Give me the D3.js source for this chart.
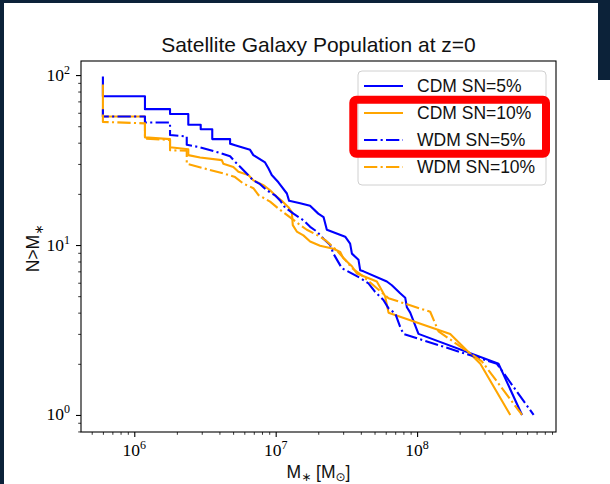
<!DOCTYPE html>
<html><head><meta charset="utf-8">
<script src="https://cdn.jsdelivr.net/npm/d3@7"></script>
<style>body{margin:0;background:#fff;} svg{display:block;}</style>
</head><body><svg id="c" width="610" height="484"></svg>
<script>
// ---- data (stellar mass in Msun, cumulative count N>M*) ----
const massCDM5 = [6.0e5, 6.0e5, 1.19e6, 1.19e6, 1.79e6, 1.79e6, 2.41e6, 2.41e6, 2.95e6, 2.95e6, 3.56e6, 3.56e6, 4.76e6, 4.76e6, 5.16e6, 6.59e6, 6.95e6, 8.41e6, 8.88e6, 9.38e6, 1.045e7, 1.20e7, 1.244e7, 1.49e7, 1.75e7, 2.0e7, 2.18e7, 2.30e7, 3.10e7, 3.36e7, 3.46e7, 3.85e7, 3.96e7, 4.18e7, 6.11e7, 6.63e7, 7.59e7, 8.24e7, 8.47e7, 8.94e7, 1.023e8, 3.77e8, 5.52e8];
const countCDM5 = [98, 75, 75, 63, 63, 59, 59, 51, 51, 48, 48, 42, 42, 39.5, 38.7, 36.3, 33.8, 30.6, 28.3, 25.8, 23.4, 20.1, 18.2, 17.6, 17, 15.3, 14.6, 12.3, 11.2, 10.2, 8.9, 8.2, 7.1, 7, 6.1, 5.8, 5.2, 4.9, 4.3, 4, 3, 2, 1];

const massCDM10 = [6.0e5, 6.0e5, 1.19e6, 1.19e6, 1.79e6, 1.79e6, 2.41e6, 2.41e6, 2.92e6, 4.16e6, 4.26e6, 5.02e6, 5.45e6, 6.41e6, 6.95e6, 8.18e6, 9.13e6, 9.90e6, 1.105e7, 1.23e7, 1.30e7, 1.321e7, 1.41e7, 1.57e7, 1.752e7, 2.06e7, 2.56e7, 2.86e7, 3.0e7, 3.46e7, 3.75e7, 5.19e7, 5.94e7, 6.28e7, 1.715e8, 2.80e8, 4.56e8];
const countCDM10 = [88, 57, 57, 43, 42, 37.6, 36.6, 33.8, 32.7, 31.6, 30.1, 28.8, 27, 25.8, 24, 22.5, 21, 19.6, 18.2, 16.7, 15.6, 13.1, 12, 11.4, 10.5, 9.9, 9.5, 9.1, 8.4, 7.5, 6.8, 6.1, 5, 4, 3, 2, 1];

const massWDM5 = [6.0e5, 6.0e5, 1.19e6, 1.19e6, 1.79e6, 1.79e6, 2.35e6, 2.35e6, 2.92e6, 4.04e6, 4.76e6, 5.16e6, 5.6e6, 6.95e6, 7.76e6, 8.65e6, 9.9e6, 1.074e7, 1.166e7, 1.335e7, 1.57e7, 1.752e7, 1.954e7, 2.176e7, 2.43e7, 2.56e7, 2.94e7, 3.96e7, 4.53e7, 5.05e7, 5.78e7, 6.28e7, 7.0e7, 7.59e7, 8.01e7, 3.67e8, 6.67e8];
const countWDM5 = [63, 57, 57, 52.6, 52.6, 44.4, 43.5, 38.9, 37.6, 34.8, 33.3, 30.9, 28.9, 24, 22.8, 21, 19.6, 18.3, 16.6, 15.3, 14, 12.8, 12, 10.9, 10, 8.9, 7.3, 6.4, 5.95, 5.3, 4.75, 4.24, 3.96, 3.3, 3, 2, 1];

const massWDM10 = [6.0e5, 6.0e5, 1.19e6, 1.19e6, 1.79e6, 1.79e6, 2.35e6, 2.35e6, 3.08e6, 4.26e6, 5.16e6, 5.91e6, 6.95e6, 7.54e6, 9.13e6, 1.074e7, 1.166e7, 1.30e7, 1.488e7, 1.66e7, 2.06e7, 2.24e7, 2.63e7, 3.10e7, 3.47e7, 4.09e7, 4.91e7, 6.28e7, 1.238e8, 1.417e8, 2.87e8, 5.52e8];
const countWDM10 = [58.7, 53, 52, 42.3, 41.5, 36.1, 35.9, 30.1, 28.3, 26.4, 25.1, 23, 21.6, 19.7, 18, 16.1, 15.3, 14.3, 13.1, 12.3, 11.2, 10.7, 9.5, 8.2, 7.3, 6.6, 5.8, 4.86, 4.05, 3.1, 2.07, 1];

const seriesNames = ["CDM SN=5%", "CDM SN=10%", "WDM SN=5%", "WDM SN=10%"];
const xTickExponents = [6, 7, 8];
const yTickExponents = [0, 1, 2];
const titleText = "Satellite Galaxy Population at z=0";

// ---- styles ----
const seriesData = [[massCDM5, countCDM5], [massCDM10, countCDM10], [massWDM5, countWDM5], [massWDM10, countWDM10]];
const seriesStyle = [
  {color: "#0000ff", dash: null},
  {color: "#ffa500", dash: null},
  {color: "#0000ff", dash: "13.3,3.3,2.1,3.3"},
  {color: "#ffa500", dash: "13.3,3.3,2.1,3.3"}
];

const svg = d3.select("#c");
svg.append("rect").attr("x",0).attr("y",0).attr("width",610).attr("height",484).attr("fill","#fff");
// dark frame
const frame = "#0c2239";
svg.append("rect").attr("x",0).attr("y",0).attr("width",610).attr("height",3).attr("fill",frame);
svg.append("rect").attr("x",0).attr("y",0).attr("width",4).attr("height",484).attr("fill",frame);
svg.append("rect").attr("x",598).attr("y",0).attr("width",12).attr("height",80).attr("fill",frame);

const L = 81, R = 556, T = 61, B = 432;
const x = d3.scaleLog().domain([4.2e5, 9.6e8]).range([L, R]);
const y = d3.scaleLog().domain([0.794, 121]).range([B, T]);

// clip
svg.append("clipPath").attr("id","clip").append("rect").attr("x",L).attr("y",T).attr("width",R-L).attr("height",B-T);

const line = d3.line().x(d => x(d[0])).y(d => y(d[1]));
const g = svg.append("g").attr("clip-path","url(#clip)");
seriesData.forEach((s, i) => {
  const pts = s[0].map((m, j) => [m, s[1][j]]);
  g.append("path").datum(pts).attr("d", line)
    .attr("fill","none").attr("stroke", seriesStyle[i].color)
    .attr("stroke-width", 2.1).attr("stroke-linejoin","round")
    .attr("stroke-dasharray", seriesStyle[i].dash);
});

// ---- axes ----
function minorTicks(lo, hi) {
  const out = [];
  for (let e = Math.floor(Math.log10(lo)); e <= Math.ceil(Math.log10(hi)); e++)
    for (let k = 2; k <= 9; k++) { const v = k * Math.pow(10, e); if (v >= lo && v <= hi) out.push(v); }
  return out;
}
const xMajor = xTickExponents.map(e => Math.pow(10, e));
const yMajor = yTickExponents.map(e => Math.pow(10, e));

const axStyle = sel => { sel.select(".domain").remove(); sel.selectAll("line").attr("stroke","#000"); };
svg.append("g").attr("transform",`translate(0,${B})`)
  .call(d3.axisBottom(x).tickValues(xMajor).tickSize(5).tickFormat(""))
  .call(axStyle).selectAll("line").attr("stroke-width",1.1);
svg.append("g").attr("transform",`translate(0,${B})`)
  .call(d3.axisBottom(x).tickValues(minorTicks(4.2e5, 9.6e8)).tickSize(2.8).tickFormat(""))
  .call(axStyle).selectAll("line").attr("stroke-width",0.8);
svg.append("g").attr("transform",`translate(${L},0)`)
  .call(d3.axisLeft(y).tickValues(yMajor).tickSize(5).tickFormat(""))
  .call(axStyle).selectAll("line").attr("stroke-width",1.1);
svg.append("g").attr("transform",`translate(${L},0)`)
  .call(d3.axisLeft(y).tickValues(minorTicks(0.794, 121)).tickSize(2.8).tickFormat(""))
  .call(axStyle).selectAll("line").attr("stroke-width",0.8);

svg.append("rect").attr("x",L).attr("y",T).attr("width",R-L).attr("height",B-T)
  .attr("fill","none").attr("stroke","#000").attr("stroke-width",1.1);

const serif = "'Liberation Serif','DejaVu Serif',serif";
const sans = "'Liberation Sans','DejaVu Sans',sans-serif";

xTickExponents.forEach(e => {
  const t = svg.append("text").attr("x", x(Math.pow(10, e))).attr("y", 456)
    .attr("text-anchor","middle").attr("font-family", serif).attr("font-size", 17.5).attr("fill","#000");
  t.append("tspan").text("10");
  t.append("tspan").attr("dy", -7).attr("font-size", 12).text(e);
});
yTickExponents.forEach(e => {
  const t = svg.append("text").attr("x", 70).attr("y", y(Math.pow(10, e)) + 5.5)
    .attr("text-anchor","end").attr("font-family", serif).attr("font-size", 17.5).attr("fill","#000");
  t.append("tspan").text("10");
  t.append("tspan").attr("dy", -7).attr("font-size", 12).text(e);
});

// title
svg.append("text").attr("x", (L+R)/2).attr("y", 52).attr("text-anchor","middle")
  .attr("font-family", sans).attr("font-size", 21).attr("fill","#111").text(titleText);

// x label
const xl = svg.append("text").attr("x", (L+R)/2).attr("y", 478).attr("text-anchor","middle")
  .attr("font-family", sans).attr("font-size", 17.5).attr("fill","#111");
xl.append("tspan").text("M");
xl.append("tspan").attr("dy", 3).attr("font-size", 12).text("∗");
xl.append("tspan").attr("dy", -3).text(" [M");
xl.append("tspan").attr("dy", 3).attr("font-size", 12).attr("font-family","'DejaVu Sans',sans-serif").text("⊙");
xl.append("tspan").attr("dy", -3).text("]");

// y label
const yl = svg.append("text").attr("transform", `translate(39,${(T+B)/2 + 2}) rotate(-90)`)
  .attr("text-anchor","middle").attr("font-family", sans).attr("font-size", 17.5).attr("fill","#111");
yl.append("tspan").text("N>M");
yl.append("tspan").attr("dy", 4).attr("font-size", 12).text("∗");

// legend
const lg = svg.append("g");
lg.append("rect").attr("x", 358).attr("y", 71).attr("width", 188).attr("height", 114).attr("rx", 4)
  .attr("fill","#fff").attr("fill-opacity",0.8).attr("stroke","#d0d0d0").attr("stroke-width",1);
seriesNames.forEach((name, i) => {
  const cy = 86 + i * 27;
  lg.append("line").attr("x1", 364).attr("x2", 403).attr("y1", cy).attr("y2", cy)
    .attr("stroke", seriesStyle[i].color).attr("stroke-width", 2.1)
    .attr("stroke-dasharray", seriesStyle[i].dash);
  lg.append("text").attr("x", 417).attr("y", cy + 6.3).attr("font-family", sans)
    .attr("font-size", 17.5).attr("fill","#111").text(name);
});

// red highlight box
svg.append("rect").attr("x", 353.3).attr("y", 99.7).attr("width", 192.7).attr("height", 54).attr("rx", 3)
  .attr("fill","none").attr("stroke","#ff0000").attr("stroke-width", 8);
</script></body></html>
